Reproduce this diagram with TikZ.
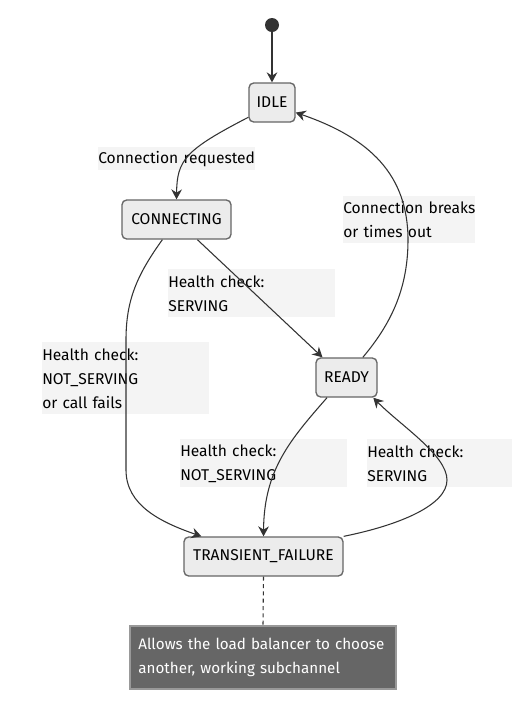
\documentclass[tikz,border=0pt]{standalone}
\usepackage{fontspec}
\setmainfont{Fira Sans}
\usetikzlibrary{arrows.meta}
\definecolor{boxfill}{HTML}{ECECEC}
\definecolor{boxline}{HTML}{666666}
\definecolor{edgecol}{HTML}{333333}
\definecolor{lblbg}{HTML}{F4F4F4}
\definecolor{notefill}{HTML}{666666}
\definecolor{noteline}{HTML}{999999}
\begin{document}
\begin{tikzpicture}[x=0.75pt,y=-0.75pt,
  every node/.style={font=\fontsize{11.7}{18}\selectfont},
  statebox/.style={draw=boxline, line width=1pt, fill=boxfill, rounded corners=3.5pt,
     minimum height=29.25pt, inner sep=0pt},
  edge/.style={draw=edgecol, line width=0.8pt, -{Stealth[length=7.5pt,width=8pt,inset=2.5pt]}},
  lbl/.style={fill=lblbg, inner sep=0pt, align=left, anchor=north west, minimum height=#1},
  notebox/.style={draw=noteline, fill=notefill, text=white, line width=1pt, inner sep=0pt,
     minimum width=199.5pt, minimum height=47.25pt, align=left}
]
\fill[white] (0,0) rectangle (512,701);
\useasboundingbox (0,0) rectangle (512,701);

% edge labels (drawn first)
\node[lbl=17.25pt, text width=117.75pt] (l1) at (98,147) {\mbox{Connection requested}};
\node[lbl=35.25pt, text width=99pt] (l2) at (343,196) {\mbox{Connection breaks}\\\mbox{or times out}};
\node[lbl=36pt, text width=125.25pt] (l3) at (168,269) {\mbox{Health check:}\\\mbox{SERVING}};
\node[lbl=54pt, text width=125.25pt] (l4) at (42,342) {\mbox{Health check:}\\\mbox{NOT\_SERVING}\\\mbox{or call fails}};
\node[lbl=36pt, text width=125.25pt] (l5) at (180,439) {\mbox{Health check:}\\\mbox{NOT\_SERVING}};
\node[lbl=36pt, text width=108.75pt] (l6) at (367,439) {\mbox{Health check:}\\\mbox{SERVING}};

% states
\node[circle, fill=edgecol, minimum size=10.5pt, inner sep=0pt] (start) at (272,25) {};
\node[statebox, minimum width=34.5pt] (idle) at (272,102.5) {IDLE};
\node[statebox, minimum width=81.75pt] (connecting) at (176.5,219.5) {CONNECTING};
\node[statebox, minimum width=45.75pt] (ready) at (346.5,377.5) {READY};
\node[statebox, minimum width=119.25pt] (tf) at (263.5,556.5) {TRANSIENT\_FAILURE};
\node[notebox, text width=187pt, font=\fontsize{11.4}{18}\selectfont] (note) at (263,657.5) {\mbox{Allows the load balancer to choose}\\\mbox{another, working subchannel}};

% connectors
\draw[edge] (start) -- (idle);
\draw[edge] (idle.212) .. controls (185,150) and (177,160) .. (connecting.north);
\draw[edge] (connecting.-44) -- (ready.140);
\draw[edge] (connecting.235) .. controls (137,275) and (126,300) .. (126,340) -- (126,470)
   .. controls (126,505) and (160,522) .. (tf.162);
\draw[edge] (ready.226) .. controls (290,440) and (264,470) .. (tf.north);
\draw[edge] (tf.north east) .. controls (400,525) and (447,505) .. (447,480)
   .. controls (447,455) and (400,425) .. (ready.-37);
\draw[edge] (ready.51) .. controls (390,325) and (408,290) .. (408,240)
   .. controls (408,175) and (370,138) .. (idle.-23);
\draw[draw=edgecol, line width=0.8pt, dash pattern=on 3pt off 2.5pt] (tf.south) -- (note.north);
\end{tikzpicture}
\end{document}
